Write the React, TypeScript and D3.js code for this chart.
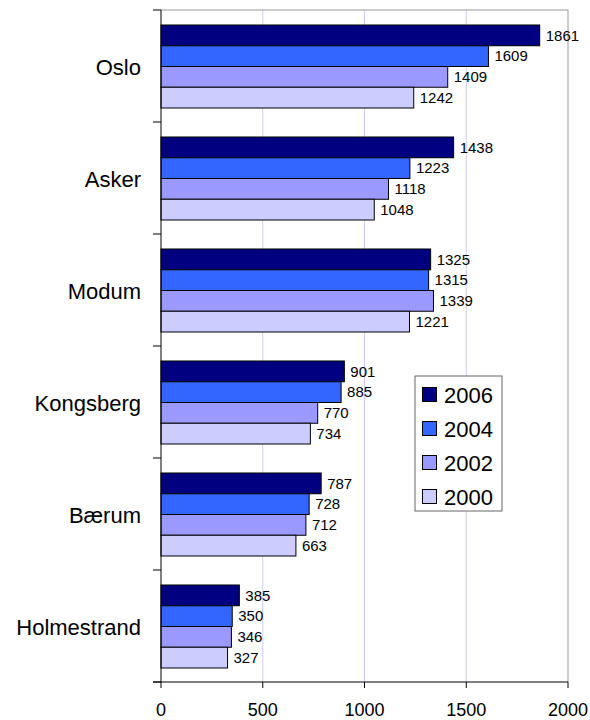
import React from "react";
import * as d3 from "d3";

const categories = ["Oslo", "Asker", "Modum", "Kongsberg", "Bærum", "Holmestrand"];
const seriesNames = ["2006", "2004", "2002", "2000"];
const values2006 = [1861, 1438, 1325, 901, 787, 385];
const values2004 = [1609, 1223, 1315, 885, 728, 350];
const values2002 = [1409, 1118, 1339, 770, 712, 346];
const values2000 = [1242, 1048, 1221, 734, 663, 327];
const seriesColors = ["#000080", "#3366FF", "#9999FF", "#CCCCFF"];
const xTicks = [0, 500, 1000, 1500, 2000];

const seriesValues = [values2006, values2004, values2002, values2000];

const W = 590;
const H = 720;
const left = 161;
const right = 568;
const top = 10;
const bottom = 682;
const FONT = "'Liberation Sans', Arial, sans-serif";

export default function App() {
  const x = d3.scaleLinear().domain([0, 2000]).range([left, right]);
  const y = d3.scaleBand<string>().domain(categories).range([top, bottom]).padding(0);
  const bw = y.bandwidth();
  const inner = d3
    .scaleBand<string>()
    .domain(seriesNames)
    .range([15, bw - 14])
    .padding(0);

  const boundaries = d3.range(categories.length + 1).map((i) => top + i * bw);

  return (
    <svg
      width={W}
      height={H}
      style={{ position: "absolute", left: 0, top: 0, background: "#fff" }}
      fontFamily={FONT}
    >
      <rect x={0} y={0} width={W} height={H} fill="#fff" />
      {/* gridlines */}
      {xTicks.slice(1, -1).map((t) => (
        <line key={t} x1={x(t)} x2={x(t)} y1={top} y2={bottom} stroke="#ccccff" strokeWidth={1} />
      ))}
      {/* plot border top/right */}
      <line x1={left} x2={right} y1={top} y2={top} stroke="#999" strokeWidth={1} />
      <line x1={right} x2={right} y1={top} y2={bottom} stroke="#999" strokeWidth={1} />
      {/* bars */}
      {categories.map((c, ci) => (
        <g key={c}>
          {seriesNames.map((s, si) => {
            const v = seriesValues[si][ci];
            const by = (y(c) as number) + (inner(s) as number);
            return (
              <g key={s}>
                <rect
                  x={x(0)}
                  y={by}
                  width={x(v) - x(0)}
                  height={inner.bandwidth()}
                  fill={seriesColors[si]}
                  stroke="#000"
                  strokeWidth={1}
                />
                <text
                  x={x(v) + 6}
                  y={by + inner.bandwidth() / 2}
                  dy="0.35em"
                  fontSize={15}
                  fill="#000"
                >
                  {v}
                </text>
              </g>
            );
          })}
          <text
            x={141}
            y={(y(c) as number) + bw / 2 + 1}
            dy="0.35em"
            textAnchor="end"
            fontSize={22}
            fill="#000"
          >
            {c}
          </text>
        </g>
      ))}
      {/* y axis */}
      <line x1={left} x2={left} y1={top} y2={bottom} stroke="#000" strokeWidth={1} />
      {boundaries.map((b, i) => (
        <line key={i} x1={left - 8} x2={left} y1={b} y2={b} stroke="#000" strokeWidth={1} />
      ))}
      {/* x axis */}
      <line x1={left - 8} x2={right} y1={bottom} y2={bottom} stroke="#000" strokeWidth={1} />
      {xTicks.map((t) => (
        <g key={t}>
          <line x1={x(t)} x2={x(t)} y1={bottom} y2={bottom + 6} stroke="#000" strokeWidth={1} />
          <text x={x(t)} y={716} textAnchor="middle" fontSize={18} fill="#000">
            {t}
          </text>
        </g>
      ))}
      {/* legend */}
      <g>
        <rect x={415} y={376} width={87} height={135} fill="#fff" stroke="#666" strokeWidth={1} />
        {seriesNames.map((s, i) => {
          const cy = 395 + i * 34;
          return (
            <g key={s}>
              <rect x={422.5} y={cy - 7.5} width={14} height={14} fill={seriesColors[i]} stroke="#000" strokeWidth={1} />
              <text x={444} y={cy} dy="0.35em" fontSize={22} fill="#000">
                {s}
              </text>
            </g>
          );
        })}
      </g>
    </svg>
  );
}
